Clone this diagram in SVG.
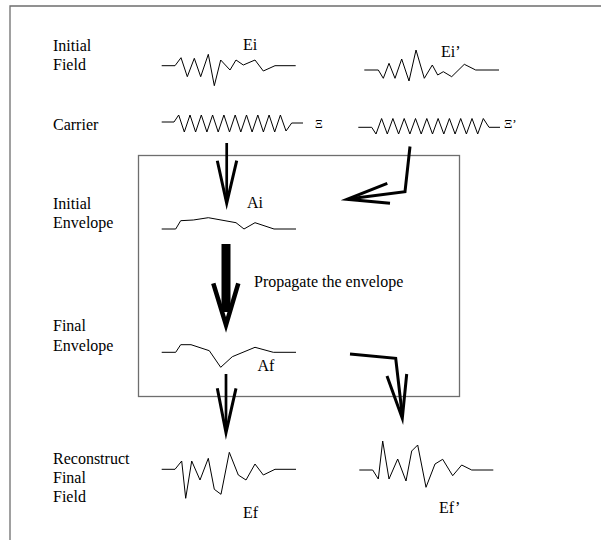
<svg xmlns="http://www.w3.org/2000/svg" width="601" height="540" viewBox="0 0 601 540">
<style>
text{font-family:"Liberation Serif","Times New Roman",serif;font-size:16px;fill:#000}
.w{fill:none;stroke:#000;stroke-width:1;stroke-linejoin:miter}
.frame{fill:none;stroke:#6e6e6e;stroke-width:1.3}
.a{fill:none;stroke:#000;stroke-linejoin:miter;stroke-miterlimit:12}
.xi{font-size:12px}
</style>
<rect x="0" y="0" width="601" height="540" fill="#fff"/>
<path class="frame" d="M10,540 V6 H601"/>
<rect id="box" class="frame" x="138.5" y="155.5" width="321" height="241"/>

<g id="labels">
<text x="53" y="51">Initial</text><text x="53" y="69.5">Field</text>
<text x="53" y="130">Carrier</text>
<text x="53" y="209">Initial</text><text x="53" y="227.5">Envelope</text>
<text x="53" y="331">Final</text><text x="53" y="351">Envelope</text>
<text x="53" y="463.5">Reconstruct</text><text x="53" y="482.5">Final</text><text x="53" y="501.5">Field</text>
</g>

<g id="Ei">
<polyline class="w" points="161.7,65.7 175,65.7 181,57.7 187.3,76.7 194.3,58.3 200.7,76.7 208.3,54.3 214.3,85.7 220.7,60 230,70 236,60 243.3,65 255,60 263.3,71 275,65.7 295.7,65.7"/>
<text x="243" y="49.5">Ei</text>
</g>
<g id="Ei2">
<polyline class="w" points="364.3,70 378.3,70 383.3,78.3 389,63.3 395,78.3 401.7,59 409,81 416,50 424.3,78.3 432.3,65 437.7,75 443.3,71.7 451.7,76.7 464.3,64.3 475.7,70 499,70"/>
<text x="441" y="56.7">Ei’</text>
</g>
<g id="Xi">
<polyline class="w" points="161.7,122 174,122 178.7,115 184.3,132 190,115 195.6,132 201.3,115 206.9,132 212.6,115 218.2,132 223.9,115 229.5,132 235.2,115 240.8,132 246.5,115 252.1,132 257.8,115 263.4,132 269.1,115 274.7,132 280.4,115 286,131 291.7,123 303,123"/>
<text class="xi" x="315" y="127.5">Ξ</text>
</g>
<g id="Xi2">
<polyline class="w" points="358.3,127.3 371.7,127.3 376,134 381.6,118.5 387.3,134 392.9,118.5 398.6,134 404.2,118.5 409.9,134 415.5,118.5 421.2,134 426.8,118.5 432.5,134 438.1,118.5 443.8,134 449.4,118.5 455.1,134 460.7,118.5 466.4,134 472,118.5 477.7,134 483.3,118.5 489,127.3 500,127.3"/>
<text class="xi" x="504" y="127.5" style="font-size:13px">Ξ’</text>
</g>
<g id="Ai">
<polyline class="w" points="161.7,229 175.7,229 180.7,220.7 193.3,220 208.3,217.7 236,222.7 244,229 255,222.7 274,229 296,229"/>
<text x="247" y="208">Ai</text>
</g>
<g id="Af">
<polyline class="w" points="161.7,352.3 175.7,352.3 180.7,344.7 191,344.7 209.3,350.7 220.7,367.3 232.3,356.7 255,347.3 273.3,352.3 296,352.3"/>
<text x="257.5" y="370.7">Af</text>
</g>
<g id="Ef">
<polyline class="w" points="161.7,469.3 175,469.3 181.7,461 185.7,498.3 191.7,461 200,480 208.3,458.3 214.3,489.3 221,494.3 229.3,452.3 238.3,475 246,480 255,464 263.3,475 275,469.3 296,469.3"/>
<text x="243" y="518.3">Ef</text>
</g>
<g id="Ef2">
<polyline class="w" points="359.3,470 372.7,470 378.3,479 382.7,441 389,479 397.7,459 406,481 411.7,451 417.7,445 426,487.3 435,464 442.7,459.3 452.7,475.7 461.7,465 471.7,470 493.3,470"/>
<text x="439" y="513.3">Ef’</text>
</g>
<g id="propagate">
<text x="254" y="287">Propagate the envelope</text>
</g>

<g id="connectors">
<line class="a" x1="226.7" y1="143" x2="226.7" y2="198" stroke-width="2.7"/>
<polyline class="a" points="217.3,160.7 226.7,203.3 236.7,160.7" stroke-width="3"/>
<polyline class="a" points="410,146.5 405,191.7 352,198.5" stroke-width="3"/>
<polyline class="a" points="387.3,183.3 347,199.3 390,203.3" stroke-width="3"/>
<line class="a" x1="226" y1="244" x2="226" y2="312" stroke-width="9"/>
<polyline class="a" points="213.3,283.3 226,325 238.3,283.3" stroke-width="4.5"/>
<line class="a" x1="226" y1="374" x2="226" y2="428" stroke-width="2.7"/>
<polyline class="a" points="217.3,388.3 226,432.7 236,388.3" stroke-width="3"/>
<polyline class="a" points="350,354 395.7,358.3 402,413" stroke-width="3"/>
<polyline class="a" points="387,376 402.3,418.3 406.7,374" stroke-width="3"/>
</g>
</svg>
